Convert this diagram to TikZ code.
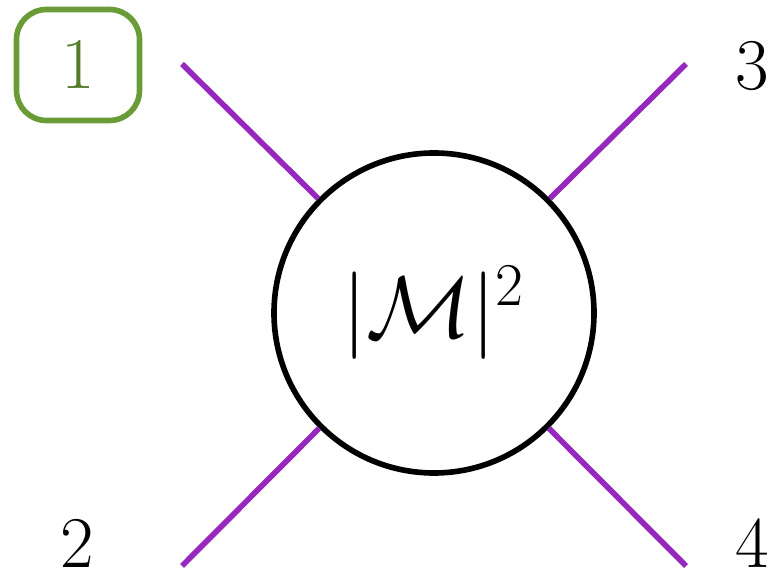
\documentclass[tikz,border=0pt]{standalone}
\usepackage{amsmath,amsfonts,amssymb}
\usepackage{tikz}
\usetikzlibrary{positioning,calc}
\definecolor{legviolet}{RGB}{150,40,190}
\definecolor{tagGreen}{RGB}{105,155,55}

\begin{document}
\begin{tikzpicture}[
    leg/.style={line width=1.6pt,legviolet},
    blob/.style={circle,draw,line width=1.6pt,minimum size=3.2cm,inner sep=0pt,font=\fontsize{25}{30}\selectfont},
    lbl/.style={font=\fontsize{20}{24}\selectfont}]
      \useasboundingbox (0,0) rectangle (7.68,5.72);
      \node[blob] (amp) at (4.34,2.59) {\(|\mathcal{M}|^2\)};
      \coordinate (p1) at (1.82,5.08);
      \coordinate (p2) at (1.82,0.06);
      \coordinate (p3) at (6.86,5.08);
      \coordinate (p4) at (6.86,0.06);
      \draw[leg] (p1) -- (amp);
      \draw[leg] (p2) -- (amp);
      \draw[leg] (p3) -- (amp);
      \draw[leg] (p4) -- (amp);
      \node[lbl,draw=tagGreen,text=tagGreen!80!black,rounded corners=0.3cm,line width=1.6pt,minimum width=1.23cm,minimum height=1.11cm] (n1) at (0.78,5.07) {\(1\)};
      \node[lbl] (n2) at (0.77,0.28) {\(2\)};
      \node[lbl] (n3) at (7.52,5.06) {\(3\)};
      \node[lbl] (n4) at (7.52,0.28) {\(4\)};
    \end{tikzpicture}
\end{document}
